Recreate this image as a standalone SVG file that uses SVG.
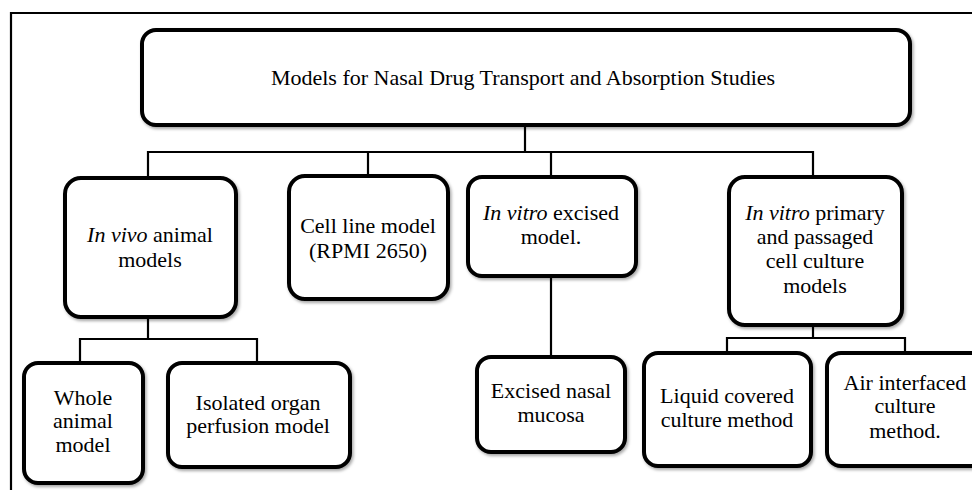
<svg xmlns="http://www.w3.org/2000/svg" width="972" height="490" viewBox="0 0 972 490">
<defs>
<filter id="sh" x="-10%" y="-10%" width="130%" height="130%">
<feDropShadow dx="1.5" dy="2" stdDeviation="1.5" flood-color="#000" flood-opacity="0.35"/>
</filter>
</defs>
<style>
.box{fill:#fff;stroke:#000;stroke-width:4;filter:url(#sh)}
.c{fill:none;stroke:#000;stroke-width:2.2}
text{font-family:'Liberation Serif','Times New Roman',serif;font-size:22px;fill:#000;text-anchor:middle}
.i{font-style:italic}
</style>
<rect x="0" y="0" width="972" height="490" fill="#fff"/>
<g id="frame" fill="none" stroke="#000" stroke-width="2.2">
<path d="M11 490 V13 H972"/>
</g>
<g id="connectors" class="c">
<path class="c" d="M525 125 V152"/>
<path class="c" d="M148 178 V152 H813 V177"/>
<path class="c" d="M368 152 V176"/>
<path class="c" d="M551 152 V177"/>
<path class="c" d="M148 317 V339"/>
<path class="c" d="M80 363 V339 H257 V363"/>
<path class="c" d="M551 276 V357"/>
<path class="c" d="M813 325 V338"/>
<path class="c" d="M727 353 V338 H905 V353"/>
</g>
<g id="root">
<rect class="box" x="142" y="30" width="768" height="95" rx="14"/>
<text x="523" y="85">Models  for Nasal Drug Transport and Absorption  Studies</text>
</g>
<g id="invivo">
<rect class="box" x="65" y="178" width="171" height="139" rx="16"/>
<text x="150" y="242"><tspan class="i">In vivo</tspan> animal</text>
<text x="150" y="267">models</text>
</g>
<g id="cellline">
<rect class="box" x="289" y="176" width="159" height="123" rx="16"/>
<text x="368" y="233">Cell line  model</text>
<text x="368" y="258">(RPMI 2650)</text>
</g>
<g id="excised">
<rect class="box" x="468" y="177" width="168" height="99" rx="14"/>
<text x="551" y="220"><tspan class="i">In vitro</tspan> excised</text>
<text x="551" y="244">model.</text>
</g>
<g id="primary">
<rect class="box" x="729" y="177" width="173" height="148" rx="16"/>
<text x="815" y="220"><tspan class="i">In vitro</tspan> primary</text>
<text x="815" y="244">and passaged</text>
<text x="815" y="268">cell culture</text>
<text x="815" y="293">models</text>
</g>
<g id="whole">
<rect class="box" x="24" y="363" width="119" height="120" rx="14"/>
<text x="83" y="405">Whole</text>
<text x="83" y="428">animal</text>
<text x="83" y="452">model</text>
</g>
<g id="isolated">
<rect class="box" x="168" y="363" width="182" height="104" rx="14"/>
<text x="258" y="410">Isolated organ</text>
<text x="258" y="433">perfusion model</text>
</g>
<g id="mucosa">
<rect class="box" x="477" y="357" width="148" height="95" rx="14"/>
<text x="551" y="398">Excised nasal</text>
<text x="551" y="422">mucosa</text>
</g>
<g id="liquid">
<rect class="box" x="644" y="353" width="167" height="113" rx="14"/>
<text x="727" y="403">Liquid  covered</text>
<text x="727" y="427">culture method</text>
</g>
<g id="air">
<rect class="box" x="827" y="353" width="165" height="113" rx="14"/>
<text x="905" y="390">Air interfaced</text>
<text x="905" y="413">culture</text>
<text x="905" y="438">method.</text>
</g>
</svg>
